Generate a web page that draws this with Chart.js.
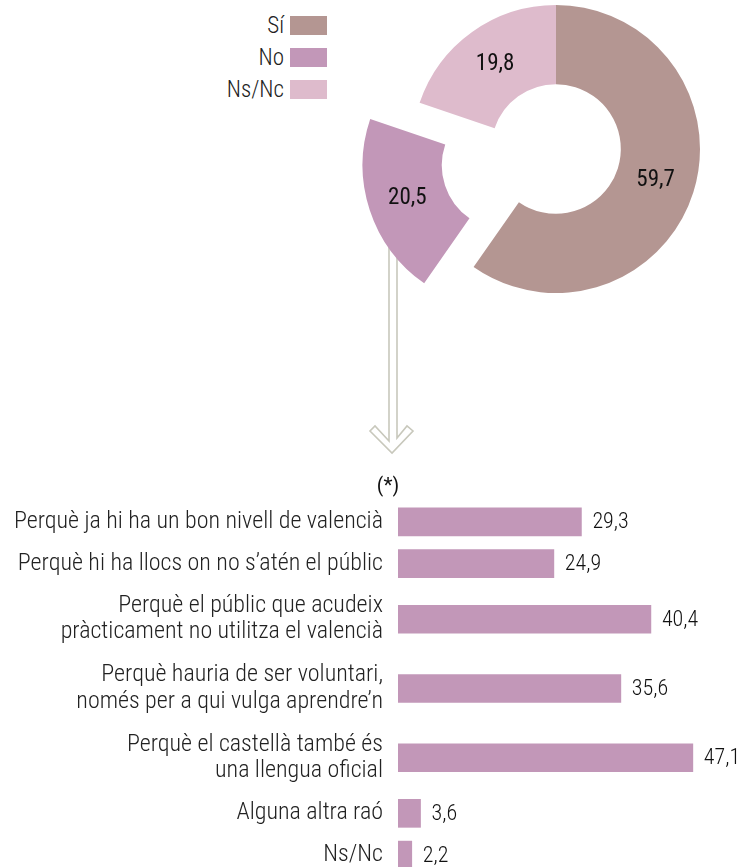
<!DOCTYPE html>
<html>
<head>
<meta charset="utf-8">
<script src="https://cdn.jsdelivr.net/npm/chart.js@4.4.1/dist/chart.umd.min.js"></script>
<style>
  html, body { margin: 0; padding: 0; background: #fff; width: 738px; height: 867px; overflow: hidden; }
  #wrap { position: relative; width: 738px; height: 867px; }
  #pie { position: absolute; left: 0; top: 0; }
  #bars { position: absolute; left: 0; top: 468px; }
  #legend { position: absolute; left: 0; top: 9px; width: 327px; font-family: 'Roboto Condensed', Roboto, sans-serif; font-weight: 300; }
  #legend .item { display: flex; justify-content: flex-end; align-items: center; height: 32px; }
  #legend .item span { font-size: 23px; color: #222; margin-right: 6px; }
  #legend .item i { display: inline-block; width: 37px; height: 19px; }
</style>
</head>
<body>
<div id="wrap">
  <div id="legend"></div>
  <canvas id="pie" width="738" height="470"></canvas>
  <canvas id="bars" width="738" height="410"></canvas>
</div>
<script>
// answer split (%)
var answers = ['Sí', 'No', 'Ns/Nc'];
var answerValues = [59.7, 20.5, 19.8];
var answerColors = ['#b49692', '#c297b8', '#debbcc'];

// reasons given by those who answered "No" (%)
var reasons = [
  ['Perquè ja hi ha un bon nivell de valencià'],
  ['Perquè hi ha llocs on no s’atén el públic'],
  ['Perquè el públic que acudeix', 'pràcticament no utilitza el valencià'],
  ['Perquè hauria de ser voluntari,', 'només per a qui vulga aprendre’n'],
  ['Perquè el castellà també és', 'una llengua oficial'],
  ['Alguna altra raó'],
  ['Ns/Nc']
];
var reasonValues = [29.3, 24.9, 40.4, 35.6, 47.1, 3.6, 2.2];

var FONT = "'Roboto Condensed', Roboto, sans-serif";
var EXPLODED = 1;      // the "No" slice is pulled out
var EXPLODE_DIST = 52;

Chart.defaults.font.family = FONT;
Chart.defaults.color = '#222';

function fmt(v) {
  return v.toFixed(1).replace('.', ',');
}

// html legend, text on the left of the colour box
var legendEl = document.getElementById('legend');
answers.forEach(function(a, i) {
  var row = document.createElement('div');
  row.className = 'item';
  row.innerHTML = '<span>' + a + '</span><i style="background:' + answerColors[i] + '"></i>';
  legendEl.appendChild(row);
});

/** pushes one slice out along its middle angle */
var explodePlugin = {
  id: 'explode',
  afterDatasetsUpdate: function(chart) {
    var arc = chart.getDatasetMeta(0).data[EXPLODED];
    if (!arc) return;
    var mid = (arc.startAngle + arc.endAngle) / 2;
    arc.x += Math.cos(mid) * EXPLODE_DIST;
    arc.y += Math.sin(mid) * EXPLODE_DIST;
  }
};

/** hollow arrow running from the exploded slice down to the bar chart */
var arrowPlugin = {
  id: 'arrow',
  beforeDatasetsDraw: function(chart) {
    var ctx = chart.ctx;
    ctx.save();
    ctx.strokeStyle = '#c8c8bc';
    ctx.lineWidth = 1.6;
    ctx.lineJoin = 'miter';
    ctx.beginPath();
    ctx.moveTo(389, 235);
    ctx.lineTo(389, 441);
    ctx.lineTo(375, 426);
    ctx.lineTo(370, 431);
    ctx.lineTo(392, 453);
    ctx.lineTo(413, 431);
    ctx.lineTo(407, 426);
    ctx.lineTo(397, 438);
    ctx.lineTo(397, 235);
    ctx.stroke();
    ctx.restore();
  }
};

/** value written in the middle of each ring segment */
var arcLabels = {
  id: 'arcLabels',
  afterDatasetsDraw: function(chart) {
    var ctx = chart.ctx;
    var meta = chart.getDatasetMeta(0);
    ctx.save();
    ctx.font = '400 23px ' + FONT;
    ctx.fillStyle = '#111';
    ctx.textAlign = 'center';
    ctx.textBaseline = 'middle';
    meta.data.forEach(function(arc, i) {
      var p = arc.tooltipPosition();
      ctx.fillText(fmt(answerValues[i]), p.x, p.y);
    });
    ctx.restore();
  }
};

new Chart(document.getElementById('pie'), {
  type: 'doughnut',
  data: {
    labels: answers,
    datasets: [{
      data: answerValues,
      backgroundColor: answerColors,
      borderWidth: 0,
      hoverBorderWidth: 0,
      hoverOffset: 0
    }]
  },
  options: {
    responsive: false,
    animation: false,
    events: [],
    radius: 144,
    cutout: '45%',
    layout: { padding: { left: 374, right: 0, top: 0, bottom: 172 } },
    plugins: { legend: { display: false }, tooltip: { enabled: false } }
  },
  plugins: [explodePlugin, arrowPlugin, arcLabels]
});

// rows with two text lines get more room
var rowHeights = reasons.map(function(r) { return 14 + 27 * r.length; });
var rowCenters = [];
var acc = 0;
rowHeights.forEach(function(h) {
  rowCenters.push(acc + h / 2);
  acc += h;
});
var rowsTotal = acc;

/** value at the end of each bar plus the (*) note above the labels */
var barLabels = {
  id: 'barLabels',
  afterDatasetsDraw: function(chart) {
    var ctx = chart.ctx;
    var meta = chart.getDatasetMeta(0);
    ctx.save();
    ctx.font = '300 22px ' + FONT;
    ctx.fillStyle = '#111';
    ctx.textAlign = 'left';
    ctx.textBaseline = 'middle';
    meta.data.forEach(function(bar, i) {
      ctx.fillText(fmt(reasonValues[i]), bar.x + 11, bar.y + 1);
    });
    ctx.font = '400 21px ' + FONT;
    ctx.textAlign = 'center';
    ctx.fillText('(*)', chart.scales.y.right - 10, chart.chartArea.top - 14);
    ctx.restore();
  }
};

new Chart(document.getElementById('bars'), {
  type: 'bar',
  data: {
    datasets: [{
      data: reasonValues.map(function(v, i) { return { x: v, y: rowCenters[i] }; }),
      backgroundColor: '#c297b8',
      borderWidth: 0,
      barThickness: 28
    }]
  },
  options: {
    indexAxis: 'y',
    responsive: false,
    animation: false,
    events: [],
    layout: { padding: { left: 0, right: 27, top: 33, bottom: 2 } },
    scales: {
      x: { type: 'linear', min: 0, max: 50, display: false },
      y: {
        type: 'linear',
        reverse: true,
        offset: false,
        min: 0,
        max: rowsTotal,
        grid: { display: false, drawTicks: false, offset: false },
        border: { display: false },
        afterBuildTicks: function(scale) {
          scale.ticks = rowCenters.map(function(c) { return { value: c }; });
        },
        afterFit: function(scale) {
          scale.width = 398;
          // labels sit inside their rows, no extra room needed above/below
          scale.paddingTop = 0;
          scale.paddingBottom = 0;
        },
        ticks: {
          autoSkip: false,
          padding: 15,
          color: '#222',
          font: { size: 24, weight: 300, lineHeight: 1.1 },
          callback: function(v, i) { return reasons[i]; }
        }
      }
    },
    plugins: { legend: { display: false }, tooltip: { enabled: false } }
  },
  plugins: [barLabels]
});
</script>
</body>
</html>
